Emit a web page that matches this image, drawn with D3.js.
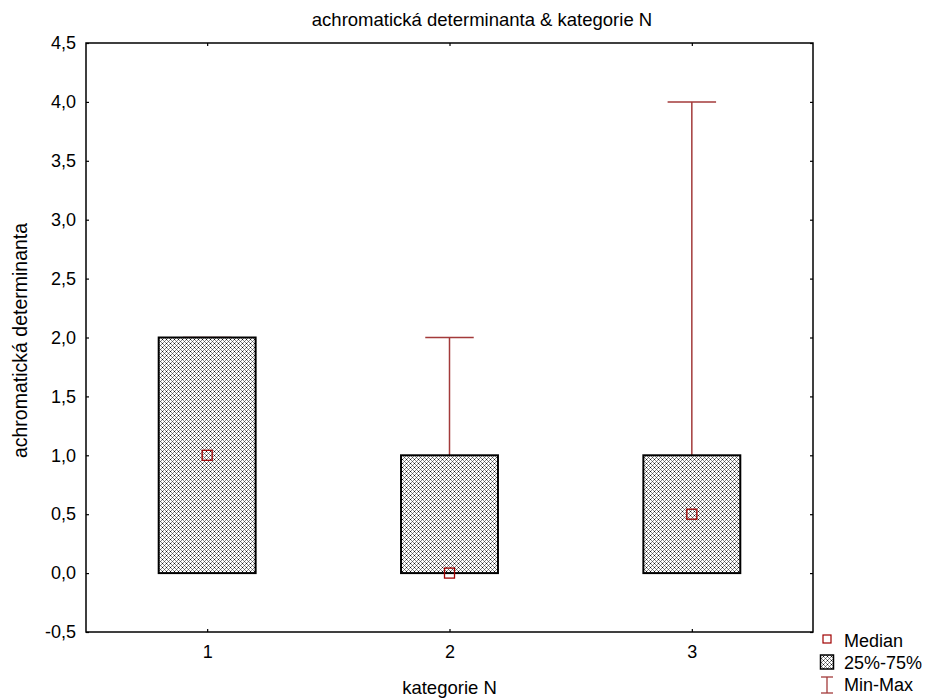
<!DOCTYPE html>
<html>
<head>
<meta charset="utf-8">
<script src="https://cdn.jsdelivr.net/npm/d3@7"></script>
<style>
  body { margin: 0; background: #fff; }
  text { font-family: "Liberation Sans", Arial, sans-serif; }
</style>
</head>
<body>
<div id="chart"></div>
<script>
// Data
// ==================================================================
const categories = [1, 2, 3],
    medians = [1.0, 0.0, 0.5],
    q1 = [0, 0, 0],
    q3 = [2, 1, 1],
    mins = [0, 0, 0],
    maxs = [2, 2, 4],
    yTicks = [-0.5, 0, 0.5, 1, 1.5, 2, 2.5, 3, 3.5, 4, 4.5];

// Layout
// ==================================================================
const W = 929, H = 699,
    margin = {top: 43, right: 116, bottom: 67, left: 86},
    width = W - margin.left - margin.right,
    height = H - margin.top - margin.bottom,
    whiskerColor = "#a33a3a",
    medianColor = "#a00000";

const fmt = v => d3.format(".1f")(v).replace(".", ",").replace("\u2212", "-");

// Scales
// ==================================================================
let xScale = d3.scaleLinear().domain([0.5, 3.5]).range([0, width]);
let yScale = d3.scaleLinear().domain([-0.5, 4.5]).range([height, 0]);

let root = d3.select("#chart").append("svg")
    .attr("width", W).attr("height", H);

// crosshatch pattern
let defs = root.append("defs");
let pat = defs.append("pattern")
    .attr("id", "hatch")
    .attr("patternUnits", "userSpaceOnUse")
    .attr("width", 4).attr("height", 4);
pat.append("rect").attr("width", 4).attr("height", 4).attr("fill", "#fff");
[[1,1],[3,1],[1,3],[3,3]].forEach(p => {
    pat.append("rect").attr("x", p[0]).attr("y", p[1])
        .attr("width", 1).attr("height", 1).attr("fill", "#8a8a8a");
});
pat.append("rect").attr("x", 0).attr("y", 0).attr("width", 1).attr("height", 1).attr("fill", "#111");
pat.append("rect").attr("x", 2).attr("y", 2).attr("width", 1).attr("height", 1).attr("fill", "#555");

let svg = root.append("g")
    .attr("transform", "translate(" + margin.left + "," + margin.top + ")");

// Axes (ticks inward, mirrored)
// ==================================================================
svg.append("g")
    .attr("transform", "translate(0," + height + ")")
    .call(d3.axisBottom(xScale).tickValues(categories).tickSize(-3).tickPadding(13).tickFormat(d3.format("d")))
    .call(g => g.select(".domain").remove())
    .call(g => g.selectAll("text").attr("font-size", "18px").attr("fill", "#000"));

svg.append("g")
    .call(d3.axisTop(xScale).tickValues(categories).tickSize(-3).tickFormat(""))
    .call(g => g.select(".domain").remove());

svg.append("g")
    .call(d3.axisLeft(yScale).tickValues(yTicks).tickSize(-3).tickPadding(10).tickFormat(fmt))
    .call(g => g.select(".domain").remove())
    .call(g => g.selectAll("text").attr("font-size", "18px").attr("fill", "#000"));

svg.append("g")
    .attr("transform", "translate(" + width + ",0)")
    .call(d3.axisRight(yScale).tickValues(yTicks).tickSize(-3).tickFormat(""))
    .call(g => g.select(".domain").remove());

svg.selectAll(".tick line").attr("stroke", "#000").attr("stroke-width", 1.2);

svg.append("rect")
    .attr("width", width).attr("height", height)
    .attr("fill", "none").attr("stroke", "#000").attr("stroke-width", 1.5);

// Boxes
// ==================================================================
const boxW = xScale(1.2) - xScale(0.8),
    capW = xScale(1.1) - xScale(0.9);

let data = categories.map((c, i) => ({
    cat: c, med: medians[i], q1: q1[i], q3: q3[i], min: mins[i], max: maxs[i]
}));

let box = svg.selectAll("g.box").data(data).enter().append("g").attr("class", "box");

box.filter(d => d.max > d.q3).append("line")
    .attr("x1", d => xScale(d.cat)).attr("x2", d => xScale(d.cat))
    .attr("y1", d => yScale(d.q3)).attr("y2", d => yScale(d.max))
    .attr("stroke", whiskerColor).attr("stroke-width", 1.5);

box.append("line")
    .attr("x1", d => xScale(d.cat) - capW / 2).attr("x2", d => xScale(d.cat) + capW / 2)
    .attr("y1", d => yScale(d.max)).attr("y2", d => yScale(d.max))
    .attr("stroke", whiskerColor).attr("stroke-width", 1.5);

box.append("rect")
    .attr("x", d => xScale(d.cat) - boxW / 2)
    .attr("y", d => yScale(d.q3))
    .attr("width", boxW)
    .attr("height", d => yScale(d.q1) - yScale(d.q3))
    .attr("fill", "url(#hatch)")
    .attr("stroke", "#000").attr("stroke-width", 2);

box.append("rect")
    .attr("x", d => xScale(d.cat) - 5)
    .attr("y", d => yScale(d.med) - 5)
    .attr("width", 10).attr("height", 10)
    .attr("fill", "none")
    .attr("stroke", medianColor).attr("stroke-width", 1.3);

// Titles
// ==================================================================
root.append("text")
    .attr("x", 482).attr("y", 26)
    .attr("text-anchor", "middle").attr("font-size", "18.5px")
    .text("achromatická determinanta & kategorie N");

root.append("text")
    .attr("x", margin.left + width / 2).attr("y", 694)
    .attr("text-anchor", "middle").attr("font-size", "18.5px")
    .text("kategorie N");

root.append("text")
    .attr("transform", "translate(27," + (margin.top + height / 2 + 3) + ") rotate(-90)")
    .attr("text-anchor", "middle").attr("font-size", "19.5px")
    .text("achromatická determinanta");

// Legend
// ==================================================================
let lg = root.append("g").attr("transform", "translate(827,0)");
lg.append("rect").attr("x", -4).attr("y", 635).attr("width", 8).attr("height", 8)
    .attr("fill", "none").attr("stroke", medianColor).attr("stroke-width", 1.2);
lg.append("rect").attr("x", -6.5).attr("y", 655).attr("width", 13).attr("height", 14)
    .attr("fill", "url(#hatch)").attr("stroke", "#000").attr("stroke-width", 1.5);
lg.append("line").attr("x1", -6).attr("x2", 6).attr("y1", 677).attr("y2", 677)
    .attr("stroke", whiskerColor).attr("stroke-width", 1.3);
lg.append("line").attr("x1", -6).attr("x2", 6).attr("y1", 693).attr("y2", 693)
    .attr("stroke", whiskerColor).attr("stroke-width", 1.3);
lg.append("line").attr("x1", 0).attr("x2", 0).attr("y1", 677).attr("y2", 693)
    .attr("stroke", whiskerColor).attr("stroke-width", 1.3);

["Median", "25%-75%", "Min-Max"].forEach((t, i) => {
    lg.append("text").attr("x", 17).attr("y", 646.5 + i * 22)
        .attr("font-size", "18px").text(t);
});
</script>
</body>
</html>
